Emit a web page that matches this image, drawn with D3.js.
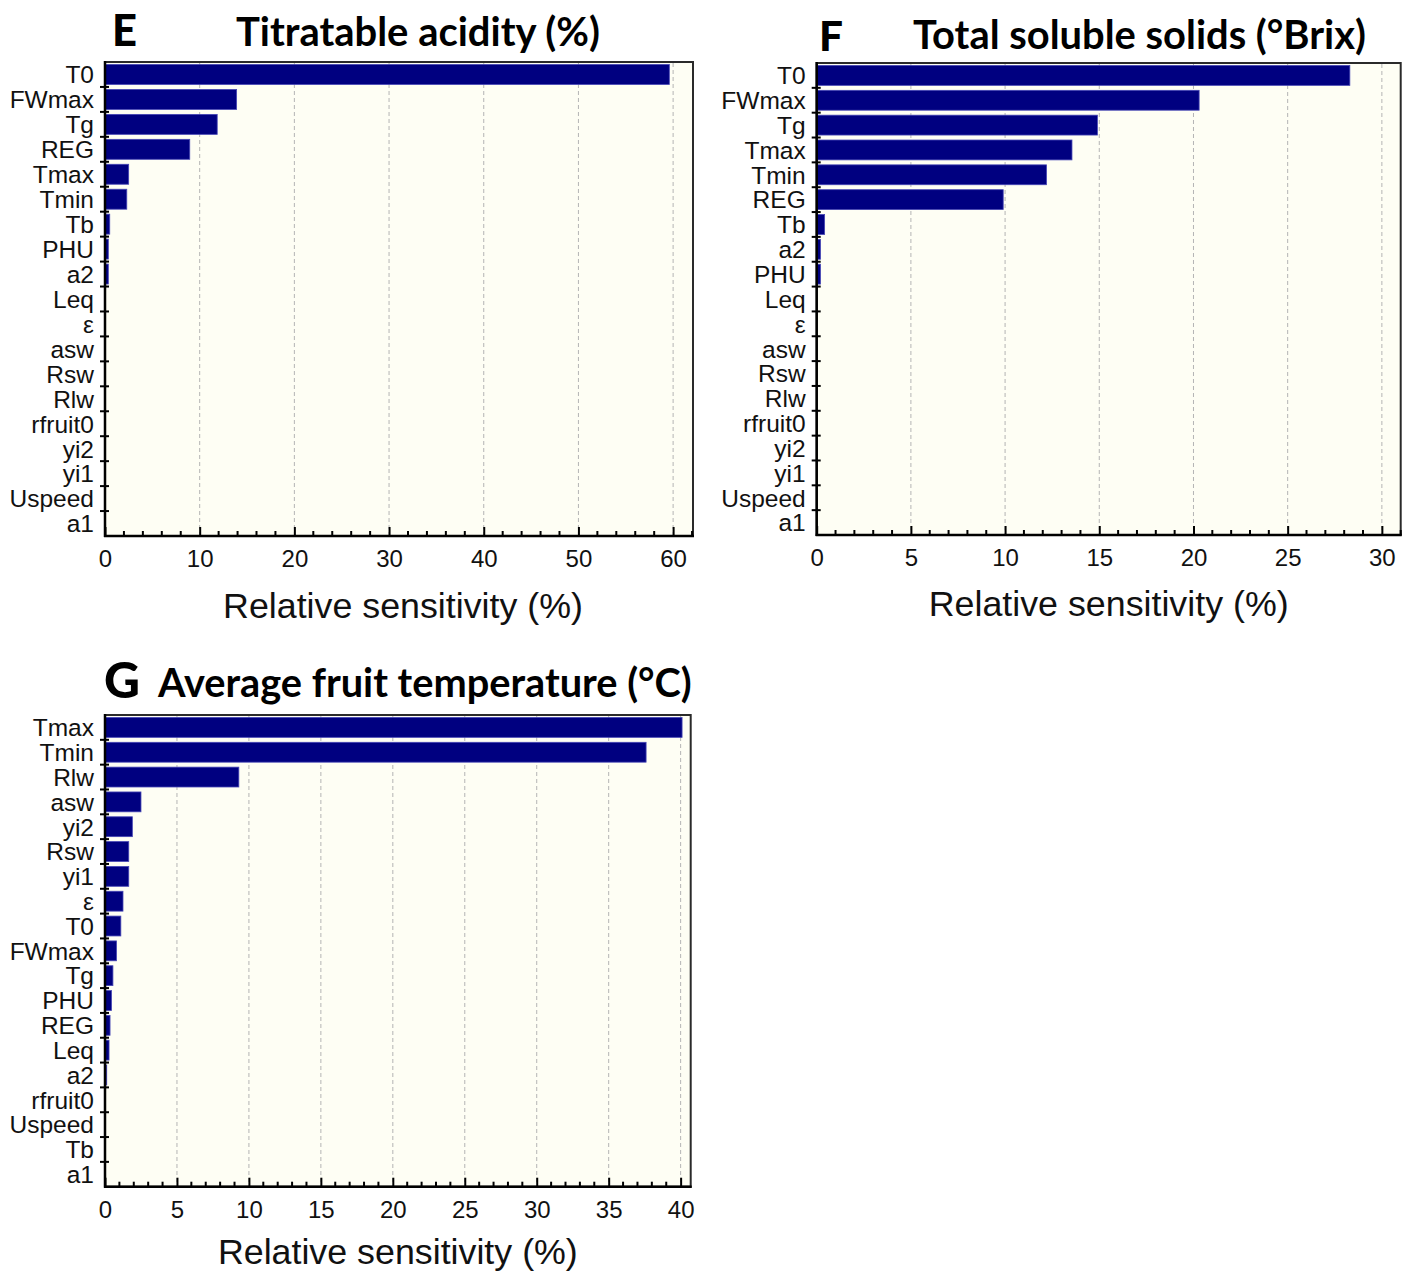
<!DOCTYPE html>
<html>
<head>
<meta charset="utf-8">
<script src="https://cdn.jsdelivr.net/npm/d3@7"></script>
<style>
  html, body { margin: 0; padding: 0; background: #ffffff; }
  svg { display: block; }
</style>
</head>
<body>
<svg id="chart" width="1410" height="1274"></svg>
<script>
// Panel E: titratable acidity
const acidityParams = ["T0", "FWmax", "Tg", "REG", "Tmax", "Tmin", "Tb", "PHU", "a2", "Leq", "ε", "asw", "Rsw", "Rlw", "rfruit0", "yi2", "yi1", "Uspeed", "a1"];
const acidityValues = [59.6, 13.9, 11.85, 8.95, 2.5, 2.3, 0.5, 0.35, 0.35, 0, 0, 0, 0, 0, 0, 0, 0, 0, 0];
const acidityTicks = [0, 10, 20, 30, 40, 50, 60];

// Panel F: total soluble solids
const solidsParams = ["T0", "FWmax", "Tg", "Tmax", "Tmin", "REG", "Tb", "a2", "PHU", "Leq", "ε", "asw", "Rsw", "Rlw", "rfruit0", "yi2", "yi1", "Uspeed", "a1"];
const solidsValues = [28.3, 20.3, 14.9, 13.55, 12.2, 9.9, 0.42, 0.2, 0.2, 0, 0, 0, 0, 0, 0, 0, 0, 0, 0];
const solidsTicks = [0, 5, 10, 15, 20, 25, 30];

// Panel G: average fruit temperature
const tempParams = ["Tmax", "Tmin", "Rlw", "asw", "yi2", "Rsw", "yi1", "ε", "T0", "FWmax", "Tg", "PHU", "REG", "Leq", "a2", "rfruit0", "Uspeed", "Tb", "a1"];
const tempValues = [40.1, 37.6, 9.3, 2.5, 1.9, 1.65, 1.65, 1.25, 1.1, 0.8, 0.55, 0.45, 0.35, 0.28, 0.12, 0.04, 0, 0, 0];
const tempTicks = [0, 5, 10, 15, 20, 25, 30, 35, 40];

const svg = d3.select("#chart");

const BAR_FILL = "#000080";
const BAR_EDGE = "#4545b5";
const PLOT_BG = "#fefef4";
const SANS = "Liberation Sans, Arial, Helvetica, sans-serif";
const TITLE_FONT = "Lato, Open Sans, sans-serif";

// Scale a text element so its rendered width equals the target width
function fitWidth(sel, target) {
  const node = sel.node();
  const size = parseFloat(sel.attr("font-size"));
  const len = node.getComputedTextLength();
  sel.attr("font-size", (size * target / len).toFixed(2));
}

function drawPanel(o) {
  const { left, top, right, bottom } = o.box;
  const g = svg.append("g");

  const x = d3.scaleLinear().domain([0, o.xMax]).range([left, right]);
  const y = d3.scaleBand().domain(o.params).range([top, bottom])
    .paddingInner(0.2).paddingOuter(0.1);

  // plot background and frame
  g.append("rect")
    .attr("x", left).attr("y", top)
    .attr("width", right - left).attr("height", bottom - top)
    .attr("fill", PLOT_BG)
    .attr("stroke", "#2a2a2a").attr("stroke-width", 2);

  // dashed vertical gridlines at major ticks
  g.append("g").selectAll("line")
    .data(o.ticks.filter(t => t > 0))
    .join("line")
    .attr("x1", d => x(d)).attr("x2", d => x(d))
    .attr("y1", top + 1).attr("y2", bottom)
    .attr("stroke", "#b4b4b4").attr("stroke-width", 1)
    .attr("stroke-dasharray", "4,3");

  // bars
  g.append("g").selectAll("rect")
    .data(o.params.map((p, i) => ({ p, v: o.values[i] })))
    .join("rect")
    .attr("x", x(0))
    .attr("y", d => y(d.p))
    .attr("width", d => Math.max(0, x(d.v) - x(0)))
    .attr("height", y.bandwidth())
    .attr("fill", BAR_FILL)
    .attr("stroke", d => d.v > 0 ? BAR_EDGE : "none")
    .attr("stroke-width", 0.8);

  // x axis: major ticks pointing inward, labels below
  const xAxis = d3.axisBottom(x)
    .tickValues(o.ticks)
    .tickSize(-9)
    .tickPadding(0)
    .tickFormat(d3.format("d"));
  const xg = g.append("g").attr("transform", `translate(0,${bottom})`).call(xAxis);
  xg.select(".domain").remove();
  xg.selectAll(".tick line").attr("stroke", "#000").attr("stroke-width", 2);
  xg.selectAll(".tick text")
    .attr("font-family", SANS)
    .attr("font-size", 24)
    .attr("fill", "#111")
    .attr("dy", null)
    .attr("y", 31);

  // minor ticks
  const minors = d3.range(0, o.xMax + 1e-9, o.minorStep)
    .filter(v => !o.ticks.some(t => Math.abs(t - v) < 1e-9));
  g.append("g").selectAll("line")
    .data(minors)
    .join("line")
    .attr("x1", d => x(d)).attr("x2", d => x(d))
    .attr("y1", bottom).attr("y2", bottom - 5)
    .attr("stroke", "#000").attr("stroke-width", 2);

  // y axis: category labels, ticks at row boundaries
  const step = y.step();
  const boundaries = d3.range(1, o.params.length).map(i => top + i * step);
  g.append("g").selectAll("line")
    .data(boundaries)
    .join("line")
    .attr("x1", left - 5).attr("x2", left + 4)
    .attr("y1", d => d).attr("y2", d => d)
    .attr("stroke", "#000").attr("stroke-width", 2);

  g.append("g").selectAll("text")
    .data(o.params)
    .join("text")
    .attr("x", left - 11)
    .attr("y", d => y(d) + y.bandwidth() / 2)
    .attr("dy", "0.36em")
    .attr("text-anchor", "end")
    .attr("font-family", SANS)
    .attr("font-size", 24.5)
    .attr("fill", "#111")
    .text(d => d);

  // axis lines
  g.append("line")
    .attr("x1", left).attr("x2", left).attr("y1", top - 1).attr("y2", bottom + 1)
    .attr("stroke", "#000").attr("stroke-width", 2.5);
  g.append("line")
    .attr("x1", left - 1).attr("x2", right + 1).attr("y1", bottom).attr("y2", bottom)
    .attr("stroke", "#000").attr("stroke-width", 2.5);

  // x axis title
  g.append("text")
    .attr("x", (left + right) / 2 + o.axisTitleShift)
    .attr("y", bottom + o.axisTitleGap)
    .attr("text-anchor", "middle")
    .attr("font-family", SANS)
    .attr("font-size", 35)
    .attr("fill", "#111")
    .text("Relative sensitivity (%)")
    .call(fitWidth, 360);

  // panel letter
  g.append("text")
    .attr("x", o.letterX).attr("y", o.letterY)
    .attr("font-family", TITLE_FONT)
    .attr("font-weight", 900)
    .attr("font-size", 50)
    .attr("fill", "#000")
    .text(o.letter)
    .call(fitWidth, o.letterW);

  // panel title
  g.append("text")
    .attr("x", o.titleX).attr("y", o.titleY)
    .attr("font-family", TITLE_FONT)
    .attr("font-weight", 700)
    .attr("font-size", 40)
    .attr("fill", "#000")
    .text(o.title)
    .call(fitWidth, o.titleW);
}

drawPanel({
  params: acidityParams, values: acidityValues, ticks: acidityTicks,
  xMax: 62.1, minorStep: 2,
  box: { left: 105, top: 62, right: 693, bottom: 536 },
  axisTitleGap: 82, axisTitleShift: 4,
  letter: "E", letterX: 112, letterY: 46, letterW: 25,
  title: "Titratable acidity (%)", titleX: 236, titleY: 46, titleW: 364
});

drawPanel({
  params: solidsParams, values: solidsValues, ticks: solidsTicks,
  xMax: 31, minorStep: 1,
  box: { left: 816.7, top: 63, right: 1400.7, bottom: 535 },
  axisTitleGap: 81, axisTitleShift: 0,
  letter: "F", letterX: 819, letterY: 51, letterW: 24,
  title: "Total soluble solids (°Brix)", titleX: 913, titleY: 49, titleW: 453
});

drawPanel({
  params: tempParams, values: tempValues, ticks: tempTicks,
  xMax: 40.7, minorStep: 1,
  box: { left: 105, top: 715, right: 690.7, bottom: 1186.7 },
  axisTitleGap: 77, axisTitleShift: 0,
  letter: "G", letterX: 104, letterY: 698, letterW: 36,
  title: "Average fruit temperature (°C)", titleX: 158, titleY: 697, titleW: 534
});
</script>
</body>
</html>
